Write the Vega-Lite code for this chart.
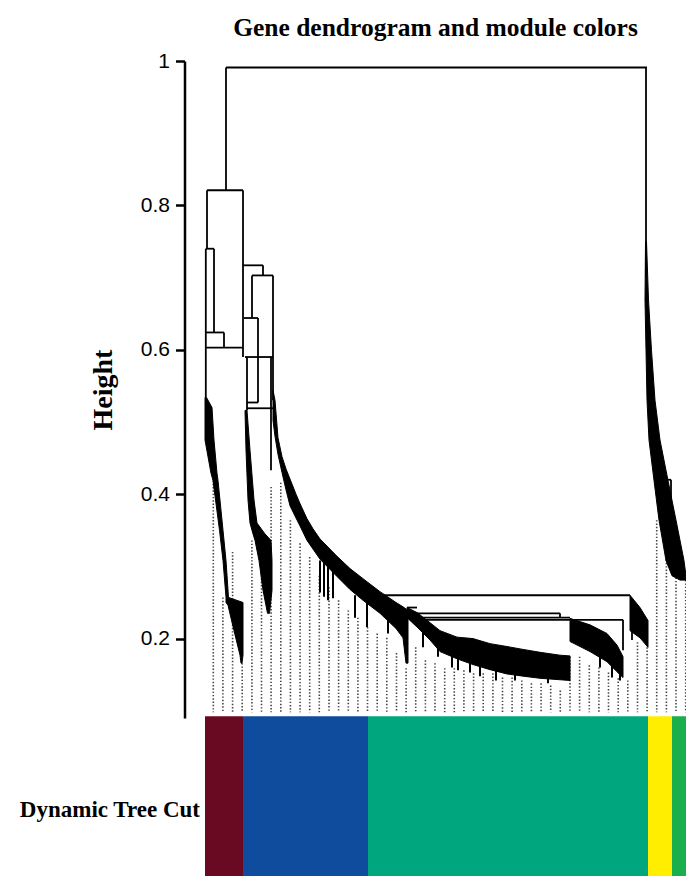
{
 "$schema": "https://vega.github.io/schema/vega-lite/v6.json",
 "width": 481,
 "height": 657,
 "autosize": {"type": "none"},
 "padding": {"left": 205, "top": 61, "right": 0, "bottom": 158},
 "background": "white",
 "title": {"text": "Gene dendrogram and module colors", "font": "Liberation Serif", "fontWeight": "bold", "fontSize": 25.5, "color": "black", "anchor": "middle", "baseline": "alphabetic", "offset": -11, "dx": -10},
 "config": {"view": {"stroke": null}, "axisY": {"grid": false}},
 "datasets": {
  "dots": [
   {"pos": 8.3, "v": 0.419}, {"pos": 17.9, "v": 0.257}, {"pos": 27.6, "v": 0.32}, {"pos": 37.2, "v": 0.166},
   {"pos": 46.9, "v": 0.336}, {"pos": 56.5, "v": 0.329}, {"pos": 66.1, "v": 0.41}, {"pos": 75.8, "v": 0.416},
   {"pos": 85.4, "v": 0.364}, {"pos": 95.1, "v": 0.332}, {"pos": 104.7, "v": 0.313}, {"pos": 114.3, "v": 0.287},
   {"pos": 124, "v": 0.271}, {"pos": 133.6, "v": 0.253}, {"pos": 143.3, "v": 0.239}, {"pos": 152.9, "v": 0.229},
   {"pos": 162.5, "v": 0.216}, {"pos": 172.2, "v": 0.207}, {"pos": 181.8, "v": 0.201}, {"pos": 191.5, "v": 0.18},
   {"pos": 201.1, "v": 0.159}, {"pos": 210.7, "v": 0.188}, {"pos": 220.4, "v": 0.17}, {"pos": 230, "v": 0.166},
   {"pos": 239.7, "v": 0.159}, {"pos": 249.3, "v": 0.159}, {"pos": 258.9, "v": 0.156}, {"pos": 268.6, "v": 0.152},
   {"pos": 278.2, "v": 0.152}, {"pos": 287.9, "v": 0.152}, {"pos": 297.5, "v": 0.146}, {"pos": 307.1, "v": 0.146},
   {"pos": 316.8, "v": 0.142}, {"pos": 326.4, "v": 0.138}, {"pos": 336.1, "v": 0.138}, {"pos": 345.7, "v": 0.135},
   {"pos": 355.3, "v": 0.128}, {"pos": 365, "v": 0.175}, {"pos": 374.6, "v": 0.175}, {"pos": 384.3, "v": 0.163},
   {"pos": 393.9, "v": 0.16}, {"pos": 403.5, "v": 0.153}, {"pos": 413.2, "v": 0.145}, {"pos": 422.8, "v": 0.142},
   {"pos": 432.5, "v": 0.195}, {"pos": 442.1, "v": 0.188}, {"pos": 451.7, "v": 0.364}, {"pos": 461.4, "v": 0.314},
   {"pos": 471, "v": 0.289}, {"pos": 480.7, "v": 0.281}
  ],
  "mods": [
   {"module": "darkred", "pos": 0, "pos2": 38},
   {"module": "blue", "pos": 38, "pos2": 163},
   {"module": "turquoise", "pos": 163, "pos2": 443},
   {"module": "yellow", "pos": 443, "pos2": 467},
   {"module": "green", "pos": 467, "pos2": 481}
  ],
  "labels": [{"label": "Dynamic Tree Cut"}],
  "segs": [
   {"pos": 21, "pos2": 442, "v": 0.991, "v2": 0.991},
   {"pos": 21, "pos2": 21, "v": 0.991, "v2": 0.821},
   {"pos": 2, "pos2": 38, "v": 0.821, "v2": 0.821},
   {"pos": 2, "pos2": 2, "v": 0.821, "v2": 0.740},
   {"pos": 0.8, "pos2": 9, "v": 0.740, "v2": 0.740},
   {"pos": 0.8, "pos2": 0.8, "v": 0.740, "v2": 0.534},
   {"pos": 9, "pos2": 9, "v": 0.740, "v2": 0.624},
   {"pos": 0.8, "pos2": 19, "v": 0.624, "v2": 0.624},
   {"pos": 19, "pos2": 19, "v": 0.624, "v2": 0.603},
   {"pos": 0.8, "pos2": 38, "v": 0.603, "v2": 0.603},
   {"pos": 38, "pos2": 38, "v": 0.821, "v2": 0.590},
   {"pos": 38, "pos2": 58, "v": 0.717, "v2": 0.717},
   {"pos": 58, "pos2": 58, "v": 0.717, "v2": 0.703},
   {"pos": 47, "pos2": 68, "v": 0.703, "v2": 0.703},
   {"pos": 47, "pos2": 47, "v": 0.703, "v2": 0.644},
   {"pos": 68, "pos2": 68, "v": 0.703, "v2": 0.53},
   {"pos": 39, "pos2": 53, "v": 0.644, "v2": 0.644},
   {"pos": 53, "pos2": 53, "v": 0.644, "v2": 0.527},
   {"pos": 40, "pos2": 68, "v": 0.590, "v2": 0.590},
   {"pos": 42, "pos2": 42, "v": 0.590, "v2": 0.516},
   {"pos": 42, "pos2": 53, "v": 0.527, "v2": 0.527},
   {"pos": 42, "pos2": 68, "v": 0.519, "v2": 0.519},
   {"pos": 66, "pos2": 66, "v": 0.590, "v2": 0.433},
   {"pos": 441, "pos2": 441, "v": 0.991, "v2": 0.70},
   {"pos": 458, "pos2": 466, "v": 0.42, "v2": 0.42},
   {"pos": 466, "pos2": 466, "v": 0.42, "v2": 0.385},
   {"pos": 165, "pos2": 425, "v": 0.260, "v2": 0.260},
   {"pos": 202, "pos2": 212, "v": 0.243, "v2": 0.243},
   {"pos": 212, "pos2": 355, "v": 0.235, "v2": 0.235},
   {"pos": 355, "pos2": 355, "v": 0.235, "v2": 0.229},
   {"pos": 215, "pos2": 365, "v": 0.229, "v2": 0.229},
   {"pos": 215, "pos2": 418, "v": 0.226, "v2": 0.226},
   {"pos": 418, "pos2": 418, "v": 0.226, "v2": 0.184},
   {"pos": 427, "pos2": 427, "v": 0.225, "v2": 0.198}
  ],
  "hbands": [
   {"band": "DR", "v": 0.534, "pos": 0, "pos2": 1.5}, {"band": "DR", "v": 0.52, "pos": 0, "pos2": 7},
   {"band": "DR", "v": 0.475, "pos": 0, "pos2": 9}, {"band": "DR", "v": 0.429, "pos": 6, "pos2": 12},
   {"band": "DR", "v": 0.419, "pos": 8, "pos2": 13}, {"band": "DR", "v": 0.35, "pos": 14.5, "pos2": 18},
   {"band": "DR", "v": 0.308, "pos": 18, "pos2": 21}, {"band": "DR", "v": 0.257, "pos": 21, "pos2": 23.5},
   {"band": "DR", "v": 0.25, "pos": 21, "pos2": 38}, {"band": "DR", "v": 0.246, "pos": 23, "pos2": 38},
   {"band": "DR", "v": 0.211, "pos": 29, "pos2": 38}, {"band": "DR", "v": 0.177, "pos": 35, "pos2": 38},
   {"band": "DR", "v": 0.166, "pos": 36, "pos2": 37},
   {"band": "BL", "v": 0.516, "pos": 40, "pos2": 42}, {"band": "BL", "v": 0.461, "pos": 41, "pos2": 45},
   {"band": "BL", "v": 0.392, "pos": 43, "pos2": 49}, {"band": "BL", "v": 0.36, "pos": 45, "pos2": 52},
   {"band": "BL", "v": 0.345, "pos": 48, "pos2": 60}, {"band": "BL", "v": 0.336, "pos": 50, "pos2": 66},
   {"band": "BL", "v": 0.308, "pos": 54, "pos2": 67}, {"band": "BL", "v": 0.267, "pos": 58, "pos2": 67},
   {"band": "BL", "v": 0.235, "pos": 62.5, "pos2": 64.5},
   {"band": "RT", "v": 0.75, "pos": 440.5, "pos2": 441.5}, {"band": "RT", "v": 0.669, "pos": 440, "pos2": 443.5},
   {"band": "RT", "v": 0.599, "pos": 441, "pos2": 446.5}, {"band": "RT", "v": 0.53, "pos": 442, "pos2": 450},
   {"band": "RT", "v": 0.475, "pos": 444, "pos2": 455}, {"band": "RT", "v": 0.419, "pos": 449, "pos2": 463},
   {"band": "RT", "v": 0.364, "pos": 454, "pos2": 471}, {"band": "RT", "v": 0.308, "pos": 461, "pos2": 479},
   {"band": "RT", "v": 0.287, "pos": 467, "pos2": 481}, {"band": "RT", "v": 0.281, "pos": 475, "pos2": 481}
  ],
  "vbands": [
   {"band": "A", "pos": 68, "v": 0.544, "v2": 0.502}, {"band": "A", "pos": 70, "v": 0.53, "v2": 0.48},
   {"band": "A", "pos": 73, "v": 0.478, "v2": 0.455}, {"band": "A", "pos": 77, "v": 0.452, "v2": 0.43},
   {"band": "A", "pos": 81, "v": 0.435, "v2": 0.406}, {"band": "A", "pos": 85, "v": 0.421, "v2": 0.384},
   {"band": "A", "pos": 91, "v": 0.400, "v2": 0.367}, {"band": "A", "pos": 95, "v": 0.387, "v2": 0.356},
   {"band": "A", "pos": 102, "v": 0.366, "v2": 0.336}, {"band": "A", "pos": 108, "v": 0.352, "v2": 0.324},
   {"band": "A", "pos": 115, "v": 0.338, "v2": 0.310}, {"band": "A", "pos": 132, "v": 0.314, "v2": 0.286},
   {"band": "A", "pos": 145, "v": 0.297, "v2": 0.268}, {"band": "A", "pos": 158, "v": 0.283, "v2": 0.253},
   {"band": "A", "pos": 175, "v": 0.265, "v2": 0.235}, {"band": "A", "pos": 191, "v": 0.25, "v2": 0.214},
   {"band": "A", "pos": 198, "v": 0.244, "v2": 0.201}, {"band": "A", "pos": 201, "v": 0.241, "v2": 0.166},
   {"band": "A", "pos": 203, "v": 0.239, "v2": 0.166},
   {"band": "B", "pos": 202, "v": 0.243, "v2": 0.229}, {"band": "B", "pos": 212, "v": 0.236, "v2": 0.216},
   {"band": "B", "pos": 225, "v": 0.222, "v2": 0.198}, {"band": "B", "pos": 235, "v": 0.211, "v2": 0.182},
   {"band": "B", "pos": 252, "v": 0.202, "v2": 0.172}, {"band": "B", "pos": 268, "v": 0.2, "v2": 0.164},
   {"band": "B", "pos": 285, "v": 0.193, "v2": 0.157}, {"band": "B", "pos": 302, "v": 0.189, "v2": 0.151},
   {"band": "B", "pos": 318, "v": 0.185, "v2": 0.148}, {"band": "B", "pos": 335, "v": 0.181, "v2": 0.145},
   {"band": "B", "pos": 355, "v": 0.177, "v2": 0.143}, {"band": "B", "pos": 365, "v": 0.176, "v2": 0.142},
   {"band": "C", "pos": 365, "v": 0.228, "v2": 0.196}, {"band": "C", "pos": 385, "v": 0.219, "v2": 0.182},
   {"band": "C", "pos": 402, "v": 0.207, "v2": 0.168}, {"band": "C", "pos": 412, "v": 0.191, "v2": 0.154},
   {"band": "C", "pos": 418, "v": 0.175, "v2": 0.146},
   {"band": "D", "pos": 425, "v": 0.26, "v2": 0.211}, {"band": "D", "pos": 435, "v": 0.243, "v2": 0.201},
   {"band": "D", "pos": 443, "v": 0.225, "v2": 0.188}
  ],
  "spikes": [
   {"pos": 115, "v": 0.308, "v2": 0.264}, {"pos": 119, "v": 0.306, "v2": 0.258}, {"pos": 123, "v": 0.3, "v2": 0.253},
   {"pos": 128, "v": 0.295, "v2": 0.256}, {"pos": 150, "v": 0.26, "v2": 0.229}, {"pos": 162, "v": 0.252, "v2": 0.216},
   {"pos": 183, "v": 0.232, "v2": 0.207}, {"pos": 218, "v": 0.209, "v2": 0.188}, {"pos": 233, "v": 0.198, "v2": 0.175},
   {"pos": 247, "v": 0.187, "v2": 0.16}, {"pos": 253, "v": 0.184, "v2": 0.156}, {"pos": 265, "v": 0.177, "v2": 0.153},
   {"pos": 275, "v": 0.17, "v2": 0.148}, {"pos": 291, "v": 0.167, "v2": 0.142}, {"pos": 310, "v": 0.163, "v2": 0.142},
   {"pos": 343, "v": 0.159, "v2": 0.138}, {"pos": 395, "v": 0.177, "v2": 0.16}, {"pos": 407, "v": 0.17, "v2": 0.146},
   {"pos": 415, "v": 0.163, "v2": 0.142}
  ]
 },
 "layer": [
  {
   "data": {"name": "dots"},
   "mark": {"type": "rule", "strokeDash": [1.4, 1.9], "strokeWidth": 1.6, "color": "#444444"},
   "encoding": {
    "x": {"field": "pos", "type": "quantitative", "scale": {"domain": [0, 481], "nice": false, "zero": false}, "axis": null},
    "y": {"field": "v", "type": "quantitative", "scale": {"domain": [0.09, 1.0], "nice": false, "zero": false},
     "axis": {"title": "Height", "values": [0.2, 0.4, 0.6, 0.8, 1], "format": "~g", "offset": 20.5, "grid": false,
      "domain": true, "ticks": true, "labels": true,
      "domainColor": "#000000", "domainWidth": 2.5, "tickColor": "#000000", "tickWidth": 2.5, "tickSize": 9,
      "labelFont": "Liberation Sans", "labelFontSize": 21, "labelColor": "#000000", "labelPadding": 6,
      "titleFont": "Liberation Serif", "titleFontWeight": "bold", "titleFontSize": 28, "titleColor": "#000000", "titlePadding": 23}},
    "y2": {"datum": 0.098}
   }
  },
  {
   "data": {"name": "mods"},
   "mark": {"type": "rect"},
   "encoding": {
    "x": {"field": "pos", "type": "quantitative", "scale": {"domain": [0, 481], "nice": false, "zero": false}},
    "x2": {"field": "pos2"},
    "y": {"datum": 0.0924, "type": "quantitative", "scale": {"domain": [0.09, 1.0], "nice": false, "zero": false}},
    "y2": {"datum": -0.135},
    "color": {"field": "module", "type": "nominal", "legend": null,
     "scale": {"domain": ["darkred", "blue", "turquoise", "yellow", "green"], "range": ["#6A0A22", "#0F4C9D", "#00A67E", "#FFEE00", "#1AAE4C"]}}
   }
  },
  {
   "data": {"name": "segs"},
   "mark": {"type": "rule", "color": "black", "strokeWidth": 1.8},
   "encoding": {
    "x": {"field": "pos", "type": "quantitative", "scale": {"domain": [0, 481], "nice": false, "zero": false}},
    "x2": {"field": "pos2"},
    "y": {"field": "v", "type": "quantitative", "scale": {"domain": [0.09, 1.0], "nice": false, "zero": false}},
    "y2": {"field": "v2"}
   }
  },
  {
   "data": {"name": "hbands"},
   "mark": {"type": "area", "orient": "horizontal", "color": "black", "stroke": "black", "strokeWidth": 1},
   "encoding": {
    "y": {"field": "v", "type": "quantitative", "scale": {"domain": [0.09, 1.0], "nice": false, "zero": false}},
    "x": {"field": "pos", "type": "quantitative", "stack": null, "scale": {"domain": [0, 481], "nice": false, "zero": false}},
    "x2": {"field": "pos2"},
    "detail": {"field": "band", "type": "nominal"}
   }
  },
  {
   "data": {"name": "vbands"},
   "mark": {"type": "area", "orient": "vertical", "color": "black", "stroke": "black", "strokeWidth": 1},
   "encoding": {
    "x": {"field": "pos", "type": "quantitative", "scale": {"domain": [0, 481], "nice": false, "zero": false}},
    "y": {"field": "v", "type": "quantitative", "stack": null, "scale": {"domain": [0.09, 1.0], "nice": false, "zero": false}},
    "y2": {"field": "v2"},
    "detail": {"field": "band", "type": "nominal"}
   }
  },
  {
   "data": {"name": "spikes"},
   "mark": {"type": "rule", "color": "black", "strokeWidth": 2},
   "encoding": {
    "x": {"field": "pos", "type": "quantitative", "scale": {"domain": [0, 481], "nice": false, "zero": false}},
    "y": {"field": "v", "type": "quantitative", "scale": {"domain": [0.09, 1.0], "nice": false, "zero": false}},
    "y2": {"field": "v2"}
   }
  },
  {
   "data": {"name": "labels"},
   "mark": {"type": "text", "align": "right", "baseline": "middle", "font": "Liberation Serif", "fontWeight": "bold", "fontSize": 23, "color": "black", "dx": -5},
   "encoding": {
    "x": {"datum": 0, "type": "quantitative", "scale": {"domain": [0, 481], "nice": false, "zero": false}},
    "y": {"datum": -0.038, "type": "quantitative", "scale": {"domain": [0.09, 1.0], "nice": false, "zero": false}},
    "text": {"field": "label"}
   }
  }
 ]
}
